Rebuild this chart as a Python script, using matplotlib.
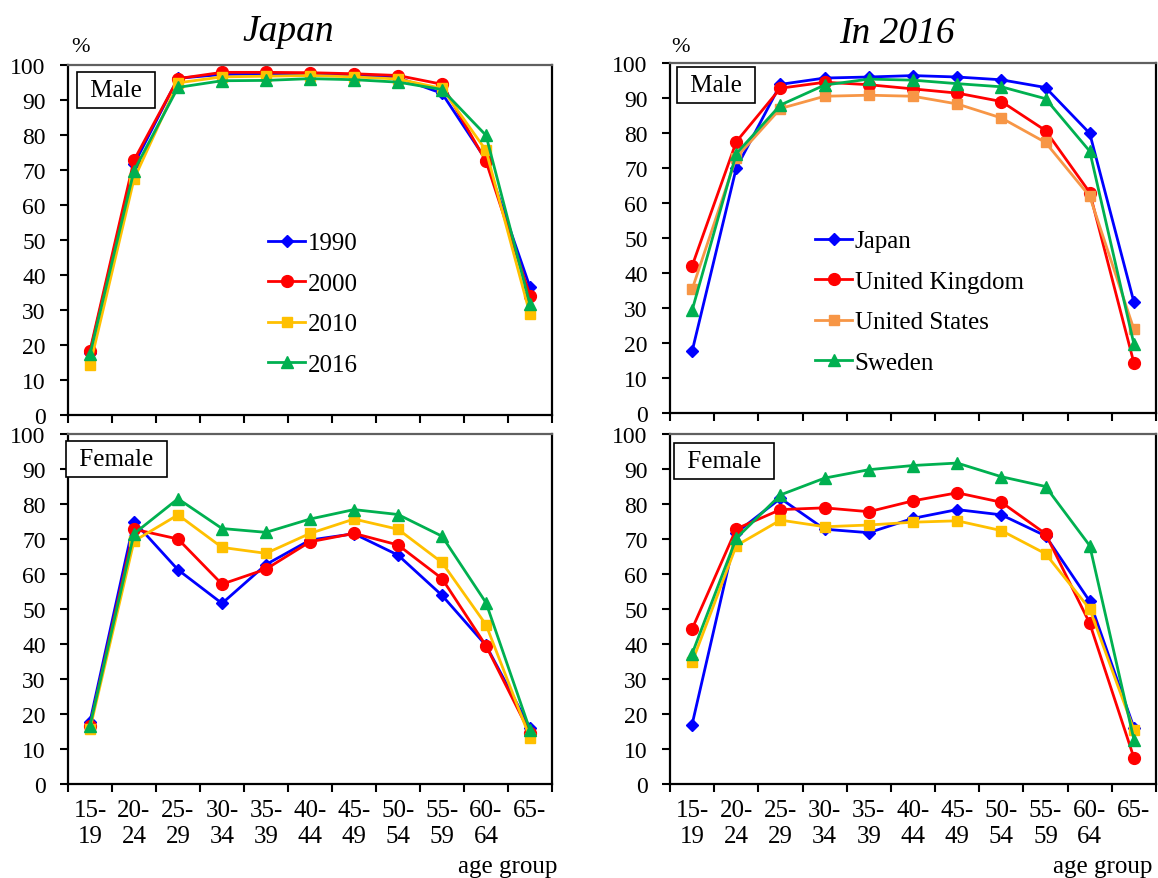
import numpy as np
import matplotlib
matplotlib.use("Agg")
import matplotlib.pyplot as plt

plt.rcParams['font.family'] = ['Liberation Serif', 'DejaVu Serif']

age_groups = ["15-\n19", "20-\n24", "25-\n29", "30-\n34", "35-\n39", "40-\n44",
              "45-\n49", "50-\n54", "55-\n59", "60-\n64", "65-"]

# Japan, male, by year
jp_male_1990 = [17.8, 71.6, 96.2, 97.3, 97.5, 97.4, 97.1, 96.4, 91.9, 72.9, 36.5]
jp_male_2000 = [18.4, 72.8, 96.1, 97.9, 97.9, 97.8, 97.5, 97.0, 94.5, 72.5, 34.1]
jp_male_2010 = [14.2, 67.4, 94.9, 96.6, 96.8, 97.0, 96.6, 96.0, 93.3, 75.6, 28.8]
jp_male_2016 = [17.4, 69.8, 93.6, 95.5, 95.6, 96.1, 95.8, 95.1, 93.0, 79.9, 31.6]

# Japan, female, by year
jp_female_1990 = [17.8, 75.0, 61.2, 51.6, 62.7, 69.7, 71.5, 65.4, 53.9, 39.6, 16.0]
jp_female_2000 = [16.6, 72.8, 70.0, 57.1, 61.4, 69.2, 71.6, 68.3, 58.7, 39.5, 14.5]
jp_female_2010 = [15.8, 69.4, 76.9, 67.6, 65.9, 71.6, 75.7, 72.8, 63.3, 45.5, 13.2]
jp_female_2016 = [16.7, 71.5, 81.5, 73.0, 71.9, 75.7, 78.4, 77.0, 70.8, 51.8, 15.4]

# 2016, male, by country
male_japan = [17.6, 70.0, 93.9, 95.7, 96.0, 96.4, 96.0, 95.2, 93.0, 79.9, 31.7]
male_uk = [42.0, 77.5, 92.8, 94.5, 93.8, 92.6, 91.4, 89.0, 80.7, 63.0, 14.3]
male_us = [35.3, 73.0, 87.0, 90.5, 90.8, 90.5, 88.3, 84.3, 77.3, 61.9, 23.9]
male_sweden = [29.3, 74.1, 88.0, 93.7, 95.4, 95.1, 94.1, 93.2, 89.8, 74.8, 19.7]

# 2016, female, by country
female_japan = [17.0, 71.8, 81.6, 72.8, 71.8, 75.9, 78.4, 76.9, 70.9, 52.2, 16.1]
female_uk = [44.3, 72.9, 78.4, 78.9, 77.8, 80.9, 83.2, 80.5, 71.5, 45.9, 7.5]
female_us = [34.8, 68.1, 75.4, 73.5, 74.0, 74.8, 75.2, 72.4, 65.8, 50.0, 15.5]
female_sweden = [37.2, 70.2, 82.6, 87.4, 89.8, 91.0, 91.7, 87.8, 85.0, 68.1, 12.7]

BLUE = '#0000FF'
RED = '#FF0000'
GOLD = '#FFC000'
ORANGE = '#F79646'
GREEN = '#00B050'

W, H = 1158, 879
fig = plt.figure(figsize=(W / 100, H / 100), dpi=100)


def make_axes(x0, y0, x1, y1):
    # pixel box -> figure fraction
    return fig.add_axes([x0 / W, 1 - y1 / H, (x1 - x0) / W, (y1 - y0) / H])


def style_axes(ax, show_labels):
    n = len(age_groups)
    ax.set_xlim(-0.5, n - 0.5)
    ax.set_ylim(0, 100)
    ax.set_yticks(np.arange(0, 101, 10))
    ax.set_xticks(np.arange(-0.5, n, 1.0))
    ax.set_xticklabels([])
    ax.tick_params(axis='both', which='major', direction='out', length=6,
                   width=1.5, labelsize=17, pad=10)
    if show_labels:
        ax.set_xticks(np.arange(n), age_groups, minor=True)
        ax.tick_params(axis='x', which='minor', length=0, labelsize=18, pad=11)
        for lab in ax.get_xticklabels(minor=True):
            lab.set_verticalalignment('top')
            lab.set_linespacing(1.2)
    for side in ['left', 'bottom', 'right']:
        ax.spines[side].set_linewidth(1.6)
        ax.spines[side].set_color('black')
    ax.spines['top'].set_linewidth(1.6)
    ax.spines['top'].set_color('#606060')


def plot_series(ax, series, colors, markers, sizes, labels):
    for ys, c, m, s, lab in zip(series, colors, markers, sizes, labels):
        ax.plot(np.arange(len(ys)), ys, color=c, marker=m, markersize=s,
                linewidth=2, label=lab, clip_on=False)


def box_label(ax, x, y, text):
    ax.text(x, y, text, transform=ax.transAxes, fontsize=18, ha='center', va='center',
            bbox=dict(boxstyle='square,pad=0.28', facecolor='white', edgecolor='black', linewidth=1.2))


markers = ['D', 'o', 's', '^']
sizes = [6.5, 8.5, 7.5, 8.5]
legend_kw = dict(loc='upper left', frameon=False, fontsize=18, borderpad=0,
                 borderaxespad=0, handlelength=1.5, handletextpad=0.1, labelspacing=0.72)

# Japan, male
ax1 = make_axes(68, 66, 552, 416)
style_axes(ax1, False)
plot_series(ax1, [jp_male_1990, jp_male_2000, jp_male_2010, jp_male_2016],
            [BLUE, RED, GOLD, GREEN], markers, sizes, ['1990', '2000', '2010', '2016'])
box_label(ax1, 0.1, 0.929, ' Male ')
ax1.legend(bbox_to_anchor=(0.413, 0.523), **legend_kw)

# Japan, female
ax2 = make_axes(68, 435, 552, 785)
style_axes(ax2, True)
plot_series(ax2, [jp_female_1990, jp_female_2000, jp_female_2010, jp_female_2016],
            [BLUE, RED, GOLD, GREEN], markers, sizes, ['1990', '2000', '2010', '2016'])
box_label(ax2, 0.1, 0.929, ' Female ')

# 2016, male
ax3 = make_axes(670, 64, 1156, 414)
style_axes(ax3, False)
plot_series(ax3, [male_japan, male_uk, male_us, male_sweden],
            [BLUE, RED, ORANGE, GREEN], markers, sizes,
            ['Japan', 'United Kingdom', 'United States', 'Sweden'])
box_label(ax3, 0.094, 0.937, ' Male ')
ax3.legend(bbox_to_anchor=(0.298, 0.523), **legend_kw)

# 2016, female
ax4 = make_axes(670, 435, 1156, 785)
style_axes(ax4, True)
plot_series(ax4, [female_japan, female_uk, female_us, female_sweden],
            [BLUE, RED, GOLD, GREEN], markers, sizes,
            ['Japan', 'United Kingdom', 'United States', 'Sweden'])
box_label(ax4, 0.111, 0.923, ' Female ')

# titles and axis notes
fig.text(288 / W, 1 - 32 / H, 'Japan', fontsize=27, style='italic', ha='center', va='center')
fig.text(897 / W, 1 - 34 / H, 'In 2016', fontsize=27, style='italic', ha='center', va='center')
fig.text(81 / W, 1 - 48 / H, '%', fontsize=16, ha='center', va='center')
fig.text(680 / W, 1 - 48 / H, '%', fontsize=16, ha='center', va='center')
fig.text(557 / W, 1 - 867 / H, 'age group', fontsize=18, ha='right', va='center')
fig.text(1152 / W, 1 - 867 / H, 'age group', fontsize=18, ha='right', va='center')

fig.savefig('out.png', dpi=100)
